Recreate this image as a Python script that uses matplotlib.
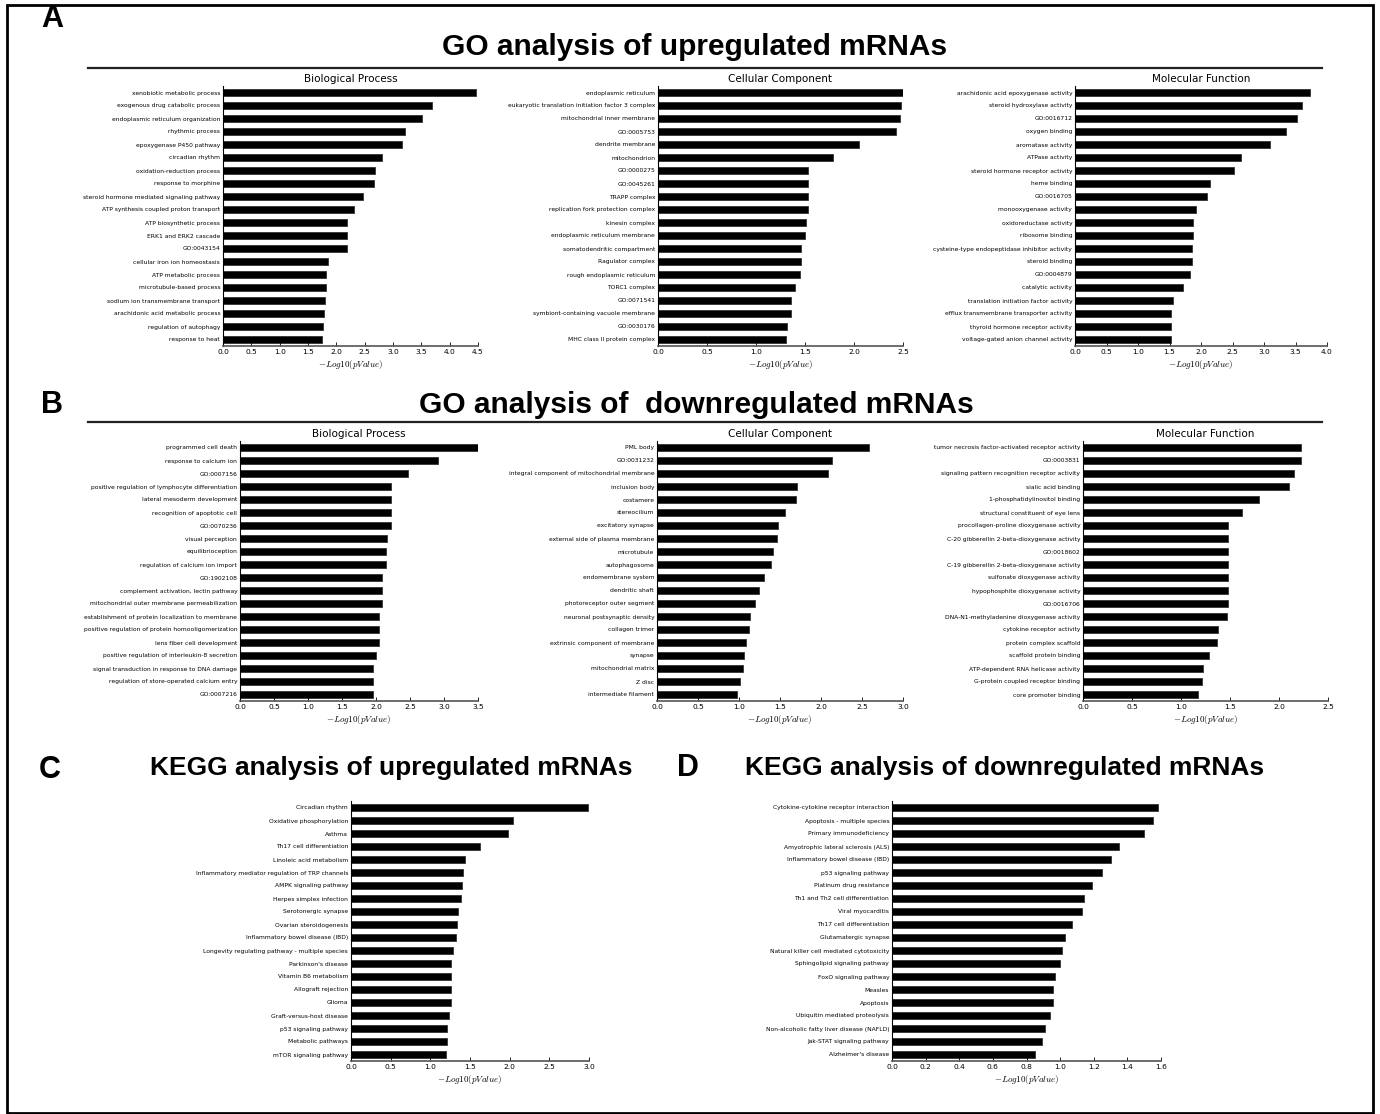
import numpy as np
import matplotlib.pyplot as plt
from matplotlib.patches import Rectangle
from matplotlib.lines import Line2D

plt.rcParams['mathtext.fontset'] = 'cm'

# ---- data: GO up-regulated ----
up_bp_terms = ["xenobiotic metabolic process", "exogenous drug catabolic process",
               "endoplasmic reticulum organization", "rhythmic process",
               "epoxygenase P450 pathway", "circadian rhythm", "oxidation-reduction process",
               "response to morphine", "steroid hormone mediated signaling pathway",
               "ATP synthesis coupled proton transport", "ATP biosynthetic process",
               "ERK1 and ERK2 cascade", "GO:0043154", "cellular iron ion homeostasis",
               "ATP metabolic process", "microtubule-based process",
               "sodium ion transmembrane transport", "arachidonic acid metabolic process",
               "regulation of autophagy", "response to heat"]
up_bp_vals = [4.47, 3.68, 3.52, 3.21, 3.16, 2.81, 2.68, 2.66, 2.47, 2.31,
              2.19, 2.19, 2.18, 1.85, 1.81, 1.81, 1.80, 1.78, 1.76, 1.74]

up_cc_terms = ["endoplasmic reticulum", "eukaryotic translation initiation factor 3 complex",
               "mitochondrial inner membrane", "GO:0005753", "dendrite membrane",
               "mitochondrion", "GO:0000275", "GO:0045261", "TRAPP complex",
               "replication fork protection complex", "kinesin complex",
               "endoplasmic reticulum membrane", "somatodendritic compartment",
               "Ragulator complex", "rough endoplasmic reticulum", "TORC1 complex",
               "GO:0071541", "symbiont-containing vacuole membrane", "GO:0030176",
               "MHC class II protein complex"]
up_cc_vals = [2.50, 2.48, 2.47, 2.43, 2.05, 1.79, 1.53, 1.53, 1.53, 1.53,
              1.51, 1.50, 1.46, 1.46, 1.45, 1.40, 1.36, 1.36, 1.32, 1.31]

up_mf_terms = ["arachidonic acid epoxygenase activity", "steroid hydroxylase activity",
               "GO:0016712", "oxygen binding", "aromatase activity", "ATPase activity",
               "steroid hormone receptor activity", "heme binding", "GO:0016705",
               "monooxygenase activity", "oxidoreductase activity", "ribosome binding",
               "cysteine-type endopeptidase inhibitor activity", "steroid binding",
               "GO:0004879", "catalytic activity", "translation initiation factor activity",
               "efflux transmembrane transporter activity",
               "thyroid hormone receptor activity", "voltage-gated anion channel activity"]
up_mf_vals = [3.73, 3.61, 3.53, 3.35, 3.10, 2.64, 2.53, 2.15, 2.10, 1.92,
              1.88, 1.88, 1.85, 1.85, 1.83, 1.72, 1.55, 1.52, 1.52, 1.52]

# ---- data: GO down-regulated ----
down_bp_terms = ["programmed cell death", "response to calcium ion", "GO:0007156",
                 "positive regulation of lymphocyte differentiation",
                 "lateral mesoderm development", "recognition of apoptotic cell",
                 "GO:0070236", "visual perception", "equilibrioception",
                 "regulation of calcium ion import", "GO:1902108",
                 "complement activation, lectin pathway",
                 "mitochondrial outer membrane permeabilization",
                 "establishment of protein localization to membrane",
                 "positive regulation of protein homooligomerization",
                 "lens fiber cell development",
                 "positive regulation of interleukin-8 secretion",
                 "signal transduction in response to DNA damage",
                 "regulation of store-operated calcium entry", "GO:0007216"]
down_bp_vals = [3.50, 2.91, 2.47, 2.22, 2.22, 2.22, 2.22, 2.16, 2.15, 2.15,
                2.09, 2.09, 2.09, 2.05, 2.05, 2.05, 2.00, 1.96, 1.96, 1.96]

down_cc_terms = ["PML body", "GO:0031232", "integral component of mitochondrial membrane",
                 "inclusion body", "costamere", "stereocilium", "excitatory synapse",
                 "external side of plasma membrane", "microtubule", "autophagosome",
                 "endomembrane system", "dendritic shaft", "photoreceptor outer segment",
                 "neuronal postsynaptic density", "collagen trimer",
                 "extrinsic component of membrane", "synapse", "mitochondrial matrix",
                 "Z disc", "intermediate filament"]
down_cc_vals = [2.59, 2.14, 2.09, 1.71, 1.69, 1.56, 1.47, 1.46, 1.41, 1.39,
                1.31, 1.24, 1.20, 1.14, 1.12, 1.08, 1.06, 1.05, 1.01, 0.98]

down_mf_terms = ["tumor necrosis factor-activated receptor activity", "GO:0003831",
                 "signaling pattern recognition receptor activity", "sialic acid binding",
                 "1-phosphatidylinositol binding", "structural constituent of eye lens",
                 "procollagen-proline dioxygenase activity",
                 "C-20 gibberellin 2-beta-dioxygenase activity", "GO:0018602",
                 "C-19 gibberellin 2-beta-dioxygenase activity",
                 "sulfonate dioxygenase activity", "hypophosphite dioxygenase activity",
                 "GO:0016706", "DNA-N1-methyladenine dioxygenase activity",
                 "cytokine receptor activity", "protein complex scaffold",
                 "scaffold protein binding", "ATP-dependent RNA helicase activity",
                 "G-protein coupled receptor binding", "core promoter binding"]
down_mf_vals = [2.22, 2.22, 2.15, 2.10, 1.80, 1.62, 1.48, 1.48, 1.48, 1.48,
                1.48, 1.48, 1.48, 1.47, 1.38, 1.37, 1.29, 1.22, 1.21, 1.17]

# ---- data: KEGG ----
kegg_up_terms = ["Circadian rhythm", "Oxidative phosphorylation", "Asthma",
                 "Th17 cell differentiation", "Linoleic acid metabolism",
                 "Inflammatory mediator regulation of TRP channels",
                 "AMPK signaling pathway", "Herpes simplex infection",
                 "Serotonergic synapse", "Ovarian steroidogenesis",
                 "Inflammatory bowel disease (IBD)",
                 "Longevity regulating pathway - multiple species",
                 "Parkinson's disease", "Vitamin B6 metabolism", "Allograft rejection",
                 "Glioma", "Graft-versus-host disease", "p53 signaling pathway",
                 "Metabolic pathways", "mTOR signaling pathway"]
kegg_up_vals = [2.99, 2.04, 1.98, 1.63, 1.44, 1.41, 1.40, 1.39, 1.35, 1.33,
                1.32, 1.28, 1.26, 1.26, 1.26, 1.26, 1.24, 1.21, 1.21, 1.20]

kegg_down_terms = ["Cytokine-cytokine receptor interaction", "Apoptosis - multiple species",
                   "Primary immunodeficiency", "Amyotrophic lateral sclerosis (ALS)",
                   "Inflammatory bowel disease (IBD)", "p53 signaling pathway",
                   "Platinum drug resistance", "Th1 and Th2 cell differentiation",
                   "Viral myocarditis", "Th17 cell differentiation",
                   "Glutamatergic synapse", "Natural killer cell mediated cytotoxicity",
                   "Sphingolipid signaling pathway", "FoxO signaling pathway", "Measles",
                   "Apoptosis", "Ubiquitin mediated proteolysis",
                   "Non-alcoholic fatty liver disease (NAFLD)",
                   "Jak-STAT signaling pathway", "Alzheimer's disease"]
kegg_down_vals = [1.58, 1.55, 1.50, 1.35, 1.30, 1.25, 1.19, 1.14, 1.13, 1.07,
                  1.03, 1.01, 1.00, 0.97, 0.96, 0.96, 0.94, 0.91, 0.89, 0.85]

W, H = 1380, 1114
fig = plt.figure(figsize=(W / 100, H / 100), dpi=100)


def px_axes(x0, x1, ytop, ybot):
    # pixel box (from top-left) -> figure fraction
    return fig.add_axes([x0 / W, 1 - ybot / H, (x1 - x0) / W, (ybot - ytop) / H])


def bar_panel(box, terms, vals, xmax, step, title=None):
    ax = px_axes(*box)
    y = np.arange(len(terms))
    ax.barh(y, vals, height=0.58, color='black', edgecolor='#333333', linewidth=0.6)
    ax.set_ylim(len(terms) - 0.5, -0.5)
    ax.set_xlim(0, xmax)
    ax.set_yticks(y)
    ax.set_yticklabels(terms, fontsize=4.3)
    ax.set_xticks(np.arange(0, xmax + step / 2, step))
    ax.xaxis.set_major_formatter(plt.FormatStrFormatter('%.1f'))
    ax.tick_params(axis='x', direction='in', length=3, width=0.6, labelsize=5.4, pad=2)
    ax.tick_params(axis='y', length=0, pad=2)
    for s in ('top', 'right'):
        ax.spines[s].set_visible(False)
    ax.spines['left'].set_linewidth(0.8)
    ax.spines['bottom'].set_linewidth(1.2)
    ax.spines['bottom'].set_color('#555555')
    ax.set_xlabel(r'$-Log10(pValue)$', fontsize=6.5, labelpad=2)
    if title:
        ax.set_title(title, fontsize=7.5, pad=3)
    return ax


# panel A
bar_panel((223, 478, 86, 346), up_bp_terms, up_bp_vals, 4.5, 0.5, "Biological Process")
bar_panel((658, 903, 86, 346), up_cc_terms, up_cc_vals, 2.5, 0.5, "Cellular Component")
bar_panel((1075, 1327, 86, 346), up_mf_terms, up_mf_vals, 4.0, 0.5, "Molecular Function")

# panel B
bar_panel((240, 478, 441, 701), down_bp_terms, down_bp_vals, 3.5, 0.5, "Biological Process")
bar_panel((657, 903, 441, 701), down_cc_terms, down_cc_vals, 3.0, 0.5, "Cellular Component")
bar_panel((1083, 1328, 441, 701), down_mf_terms, down_mf_vals, 2.5, 0.5, "Molecular Function")

# panels C and D
bar_panel((351, 589, 801, 1061), kegg_up_terms, kegg_up_vals, 3.0, 0.5)
bar_panel((892, 1161, 801, 1061), kegg_down_terms, kegg_down_vals, 1.6, 0.2)

# headings
head_font = ['Liberation Sans Narrow', 'Liberation Sans', 'DejaVu Sans']


def ftext(x, y, s, size):
    fig.text(x / W, 1 - y / H, s, fontsize=size, fontweight='bold', family=head_font,
             ha='center', va='center')


ftext(52, 19, "A", 22)
ftext(52, 405, "B", 22)
ftext(50, 770, "C", 22)
ftext(688, 768, "D", 22)
ftext(695, 47, "GO analysis of upregulated mRNAs", 21.5)
ftext(696, 405, "GO analysis of  downregulated mRNAs", 21.5)
ftext(391, 768, "KEGG analysis of upregulated mRNAs", 19)
ftext(1005, 768, "KEGG analysis of downregulated mRNAs", 19)

# rules under the panel headings
for yl in (68, 422):
    fig.add_artist(Line2D([88 / W, 1322 / W], [1 - yl / H, 1 - yl / H],
                          transform=fig.transFigure, color='#222222', lw=1.6))

# outer frame
fig.add_artist(Rectangle((7 / W, 1 / H), (1373 - 7) / W, (1109 - 1) / H,
                         transform=fig.transFigure, fill=False, lw=2, color='black'))

fig.savefig('out.png', dpi=100)
